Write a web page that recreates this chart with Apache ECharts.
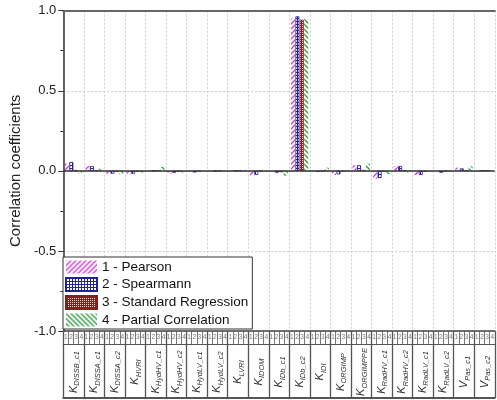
<!DOCTYPE html>
<html>
<head>
<meta charset="utf-8">
<script src="https://cdn.jsdelivr.net/npm/echarts@6/dist/echarts.min.js"></script>
<style>html,body{margin:0;padding:0;background:#fff}#c{width:497px;height:400px}</style>
</head>
<body>
<div id="c"></div>
<script>
const categories = ['K_DISSB_c1','K_DISSA_c1','K_DISSA_c2','K_HVRI','K_HydHV_c1','K_HydHV_c2','K_HydLV_c1','K_HydLV_c2','K_LVRI','K_IDOM','K_IDb_c1','K_IDb_c2','K_IDI','K_ORGIMP','K_ORGIMPPE','K_RadHV_c1','K_RadHV_c2','K_RadLV_c1','K_RadLV_c2','V_Pas_c1','V_Pas_c2'];
const seriesNames = ['1 - Pearson','2 - Spearmann','3 - Standard Regression','4 - Partial Correlation'];
const subLabels = ['1','2','3','4'];
const pearson  = [0.045, 0.03, -0.018, -0.022, 0.003, -0.018, -0.004, 0.002, -0.003, -0.028, -0.005, 0.952, 0.002, -0.026, 0.035, -0.05, 0.03, -0.026, -0.004, 0.02, 0.004];
const spearman = [0.055, 0.03, -0.018, -0.018, 0.002, -0.012, -0.01, -0.002, 0.003, -0.025, -0.012, 0.965, -0.005, -0.022, 0.035, -0.045, 0.03, -0.025, -0.012, 0.015, 0.003];
const stdReg   = [0.005, 0.003, -0.004, -0.004, 0.002, -0.003, -0.003, 0.001, 0.001, -0.004, -0.008, 0.944, -0.002, -0.004, 0.005, -0.006, 0.004, -0.004, -0.002, 0.004, 0.002];
const partial  = [-0.015, 0.014, -0.022, -0.01, 0.025, -0.01, -0.002, 0.001, 0.004, -0.005, -0.03, 0.95, 0.02, 0.006, 0.045, -0.02, -0.01, -0.004, 0.003, 0.028, 0.003];
const yTicks = {min: -1, max: 1, interval: 0.5};

function makePattern(kind) {
  const c = document.createElement('canvas');
  const ctx = c.getContext('2d');
  if (kind === 'pearson' || kind === 'partial') {
    const s = 5; c.width = s; c.height = s;
    ctx.fillStyle = '#ffffff'; ctx.fillRect(0,0,s,s);
    ctx.strokeStyle = kind === 'pearson' ? '#d437d4' : '#2f9a3c';
    ctx.lineWidth = 1.3;
    ctx.beginPath();
    if (kind === 'pearson') {
      ctx.moveTo(-1, s+1); ctx.lineTo(s+1, -1);
      ctx.moveTo(-1, 1); ctx.lineTo(1, -1);
      ctx.moveTo(s-1, s+1); ctx.lineTo(s+1, s-1);
    } else {
      ctx.moveTo(-1, -1); ctx.lineTo(s+1, s+1);
      ctx.moveTo(s-1, -1); ctx.lineTo(s+1, 1);
      ctx.moveTo(-1, s-1); ctx.lineTo(1, s+1);
    }
    ctx.stroke();
  } else if (kind === 'spearman') {
    c.width = 3; c.height = 3;
    ctx.fillStyle = '#ffffff'; ctx.fillRect(0,0,3,3);
    ctx.fillStyle = '#22229a';
    ctx.fillRect(0,0,3,1); ctx.fillRect(0,0,1,3);
  } else {
    c.width = 2; c.height = 2;
    ctx.fillStyle = '#8b1c1c'; ctx.fillRect(0,0,2,2);
    ctx.fillStyle = '#f2d4d4'; ctx.fillRect(0,0,1,1);
  }
  return {image: c, repeat: 'repeat'};
}

const chart = echarts.init(document.getElementById('c'), null, {renderer: 'canvas'});
const font = 'Liberation Sans, Arial, sans-serif';
const subCats = [];
categories.forEach(() => subLabels.forEach(s => subCats.push(s)));

const gridLeft = 63, gridTop = 10.7, gridW = 437.4, gridH = 320.3;
const styles = [
  {kind: 'pearson', border: '#d437d4', bw: 0},
  {kind: 'spearman', border: '#22229a', bw: 0.8},
  {kind: 'stdreg', border: '#8b1c1c', bw: 0.6},
  {kind: 'partial', border: '#2f9a3c', bw: 0}
];
const dataSets = [pearson, spearman, stdReg, partial];

const series = dataSets.map((d, i) => ({
  name: seriesNames[i],
  type: 'bar',
  xAxisIndex: 0,
  yAxisIndex: 0,
  data: d,
  barGap: '10%',
  barCategoryGap: '16%',
  itemStyle: {color: makePattern(styles[i].kind), borderColor: styles[i].border, borderWidth: styles[i].bw},
  emphasis: {disabled: true},
  markLine: i === 0 ? {
    silent: true, symbol: 'none', label: {show: false},
    lineStyle: {color: '#333', width: 1.5, type: 'solid'},
    data: [{yAxis: 0}]
  } : undefined
}));

chart.setOption({
  animation: false,
  backgroundColor: '#fff',
  grid: {left: gridLeft, top: gridTop, width: gridW, height: gridH, show: false},
  legend: {
    orient: 'vertical', left: 63, top: 257,
    itemWidth: 31, itemHeight: 13, itemGap: 3,
    backgroundColor: '#fff', borderColor: '#333', borderWidth: 1,
    padding: [3, 4, 2, 2],
    textStyle: {fontFamily: font, fontSize: 13.5, color: '#111', lineHeight: 14},
    icon: 'rect',
    data: seriesNames
  },
  xAxis: [
    {
      type: 'category', data: categories, position: 'bottom', gridIndex: 0,
      axisLine: {onZero: false, lineStyle: {color: '#444', width: 1.5}},
      axisTick: {show: true, length: 67, interval: 0, lineStyle: {color: '#555', width: 1.3}},
      splitLine: {show: true, interval: 0, lineStyle: {color: '#ccc', type: [2, 2], width: 1}},
      axisLabel: {
        interval: 0, rotate: 90, margin: 41, align: 'center', verticalAlign: 'middle',
        formatter: function (v) {
          const i = v.indexOf('_');
          return '{k|' + v.slice(0, i) + '}{s|' + v.slice(i + 1) + '}';
        },
        rich: {
          k: {fontFamily: font, fontStyle: 'italic', fontSize: 11, color: '#333', lineHeight: 15},
          s: {fontFamily: font, fontStyle: 'italic', fontSize: 7.5, color: '#333', verticalAlign: 'bottom', lineHeight: 15}
        }
      }
    },
    {
      type: 'category', data: subCats, position: 'bottom', gridIndex: 0,
      axisLine: {show: false, onZero: false},
      axisTick: {show: true, length: 13, interval: 0, lineStyle: {color: '#555', width: 0.8}},
      splitLine: {show: false},
      axisLabel: {interval: 0, margin: 3, fontFamily: font, fontSize: 6.5, color: '#777'}
    },
    {
      type: 'category', data: categories, position: 'bottom', offset: 13, gridIndex: 0,
      axisLine: {show: true, onZero: false, lineStyle: {color: '#555', width: 1.2}},
      axisTick: {show: false}, axisLabel: {show: false}, splitLine: {show: false}
    },
    {
      type: 'category', data: categories, position: 'bottom', offset: 67, gridIndex: 0,
      axisLine: {show: true, onZero: false, lineStyle: {color: '#555', width: 1.8}},
      axisTick: {show: false}, axisLabel: {show: false}, splitLine: {show: false}
    },
    {
      type: 'category', data: categories, position: 'top', gridIndex: 0,
      axisLine: {show: true, onZero: false, lineStyle: {color: '#666', width: 2}},
      axisTick: {show: false}, axisLabel: {show: false}, splitLine: {show: false}
    }
  ],
  yAxis: {
    type: 'value', min: yTicks.min, max: yTicks.max, interval: yTicks.interval,
    name: 'Correlation coefficients', nameLocation: 'middle', nameGap: 37,
    nameTextStyle: {fontFamily: font, fontSize: 15, color: '#222'},
    axisLine: {show: true, lineStyle: {color: '#333', width: 1.5}},
    axisTick: {show: true, length: 5, lineStyle: {color: '#333'}},
    minorTick: {show: true, splitNumber: 2, length: 3, lineStyle: {color: '#333'}},
    splitLine: {show: true, lineStyle: {color: '#ccc', type: [2, 2]}},
    axisLabel: {fontFamily: font, fontSize: 13, color: '#222', margin: 7, formatter: v => v.toFixed(1)}
  },
  series: series
});
</script>
</body>
</html>
